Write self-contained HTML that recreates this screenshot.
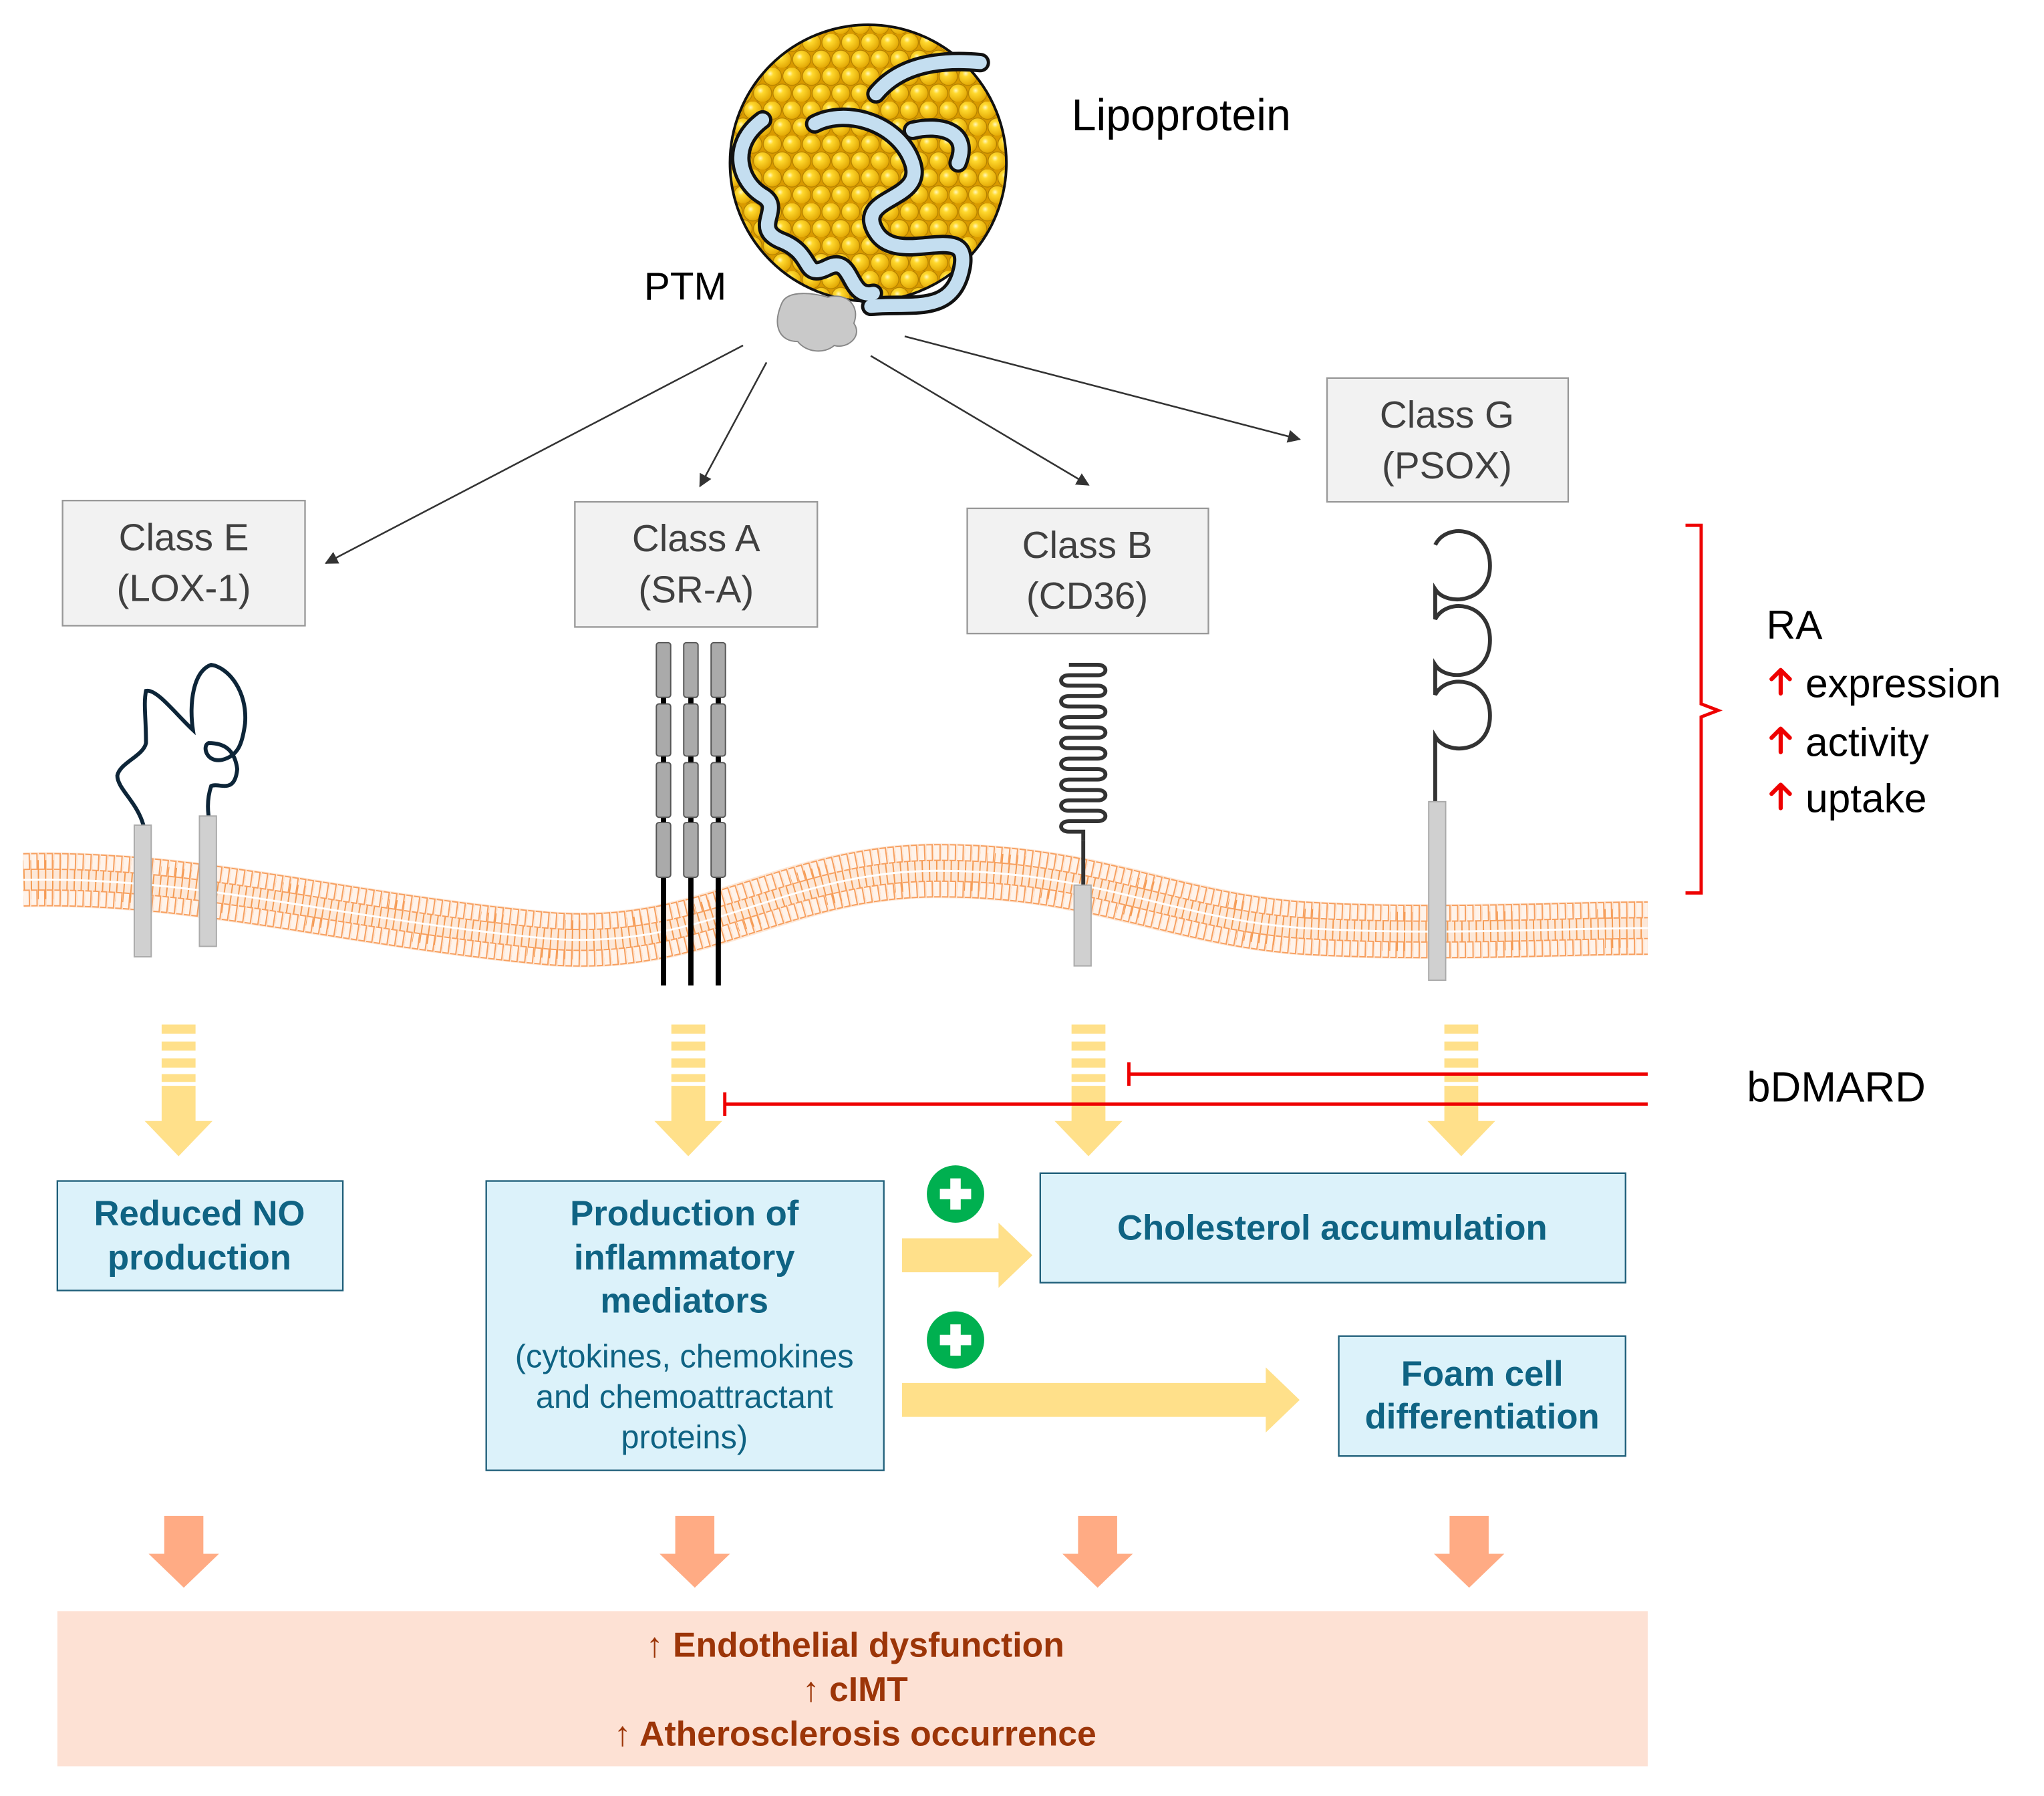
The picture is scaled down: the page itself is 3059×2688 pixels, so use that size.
<!DOCTYPE html>
<html><head><meta charset="utf-8"><style>
html,body{margin:0;padding:0;background:#fff}
svg{display:block}
text{font-family:"Liberation Sans","DejaVu Sans",sans-serif}
</style></head><body>
<svg width="3059" height="2688" viewBox="0 0 1568 1377.8" xmlns="http://www.w3.org/2000/svg">
<defs>
<radialGradient id="sg" cx="0.38" cy="0.35" r="0.7">
<stop offset="0" stop-color="#fff7c0"/><stop offset="0.25" stop-color="#ffd92e"/><stop offset="1" stop-color="#e0a300"/>
</radialGradient>
<pattern id="sp" width="15" height="26" patternUnits="userSpaceOnUse">
<rect width="15" height="26" fill="#d99a00"/>
<circle cx="7.5" cy="6.5" r="7" fill="url(#sg)" stroke="#b07d00" stroke-width="0.6"/>
<circle cx="0" cy="19.5" r="7" fill="url(#sg)" stroke="#b07d00" stroke-width="0.6"/>
<circle cx="15" cy="19.5" r="7" fill="url(#sg)" stroke="#b07d00" stroke-width="0.6"/>
</pattern>
<marker id="ah" markerWidth="10" markerHeight="10" refX="9" refY="5" orient="auto" markerUnits="userSpaceOnUse">
<path d="M0,0 L10,5 L0,10 z" fill="#333"/>
</marker>
<path id="mp" d="M18,675 C150,672 260,705 420,720 C540,730 600,668 720,668 C840,668 900,705 1000,712 C1100,718 1200,712 1264,712"/>
</defs>

<!-- Lipoprotein -->
<circle cx="666" cy="125" r="106" fill="url(#sp)" stroke="#111" stroke-width="2"/>
<g fill="none" stroke-linecap="round" stroke-linejoin="round">
<g stroke="#111" stroke-width="15">
<path d="M585,92 C558,112 568,140 585,150 S575,175 600,185 S615,215 635,205 S650,230 670,225"/>
<path d="M625,95 C650,82 690,95 700,125 S655,150 672,178 S745,168 738,205 S700,232 668,235"/>
<path d="M672,72 C690,50 720,45 752,48"/>
<path d="M700,100 C720,95 745,100 735,125"/>
</g>
<g stroke="#c4def0" stroke-width="10">
<path d="M585,92 C558,112 568,140 585,150 S575,175 600,185 S615,215 635,205 S650,230 670,225"/>
<path d="M625,95 C650,82 690,95 700,125 S655,150 672,178 S745,168 738,205 S700,232 668,235"/>
<path d="M672,72 C690,50 720,45 752,48"/>
<path d="M700,100 C720,95 745,100 735,125"/>
</g>
</g>
<path d="M600,232 C605,222 625,225 635,228 C650,224 660,235 655,248 C662,258 650,268 640,265 C632,272 618,270 612,262 C598,262 592,250 600,232 z" fill="#c9c9c9" stroke="#888" stroke-width="1"/>
<text x="822" y="100" font-size="34" fill="#000">Lipoprotein</text>
<text x="494" y="230" font-size="30" fill="#000">PTM</text>

<!-- arrows -->
<g stroke="#333" stroke-width="1.3" marker-end="url(#ah)">
<line x1="570" y1="265" x2="250" y2="432"/>
<line x1="588" y1="278" x2="537" y2="373"/>
<line x1="668" y1="273" x2="835" y2="372"/>
<line x1="694" y1="258" x2="997" y2="337"/>
</g>

<!-- class boxes -->
<g fill="#f2f2f2" stroke="#999" stroke-width="1.2">
<rect x="48" y="384" width="186" height="96"/>
<rect x="441" y="385" width="186" height="96"/>
<rect x="742" y="390" width="185" height="96"/>
<rect x="1018" y="290" width="185" height="95"/>
</g>
<g font-size="29" fill="#404040" text-anchor="middle">
<text x="141" y="422">Class E</text><text x="141" y="461">(LOX-1)</text>
<text x="534" y="423">Class A</text><text x="534" y="462">(SR-A)</text>
<text x="834" y="428">Class B</text><text x="834" y="467">(CD36)</text>
<text x="1110" y="328">Class G</text><text x="1110" y="367">(PSOX)</text>
</g>

<!-- membrane -->
<g fill="none">
<use href="#mp" stroke="#fde8d8" stroke-width="42"/>
<use href="#mp" stroke="#f49a50" stroke-width="30" stroke-dasharray="1 4.5"/>
<use href="#mp" transform="translate(0,-14)" stroke="#f7a060" stroke-width="13" stroke-dasharray="5 0.9"/>
<use href="#mp" transform="translate(0,-14)" stroke="#fff3ea" stroke-width="11" stroke-dasharray="4 1.9"/>
<use href="#mp" transform="translate(0,14)" stroke="#f7a060" stroke-width="13" stroke-dasharray="5 0.9"/>
<use href="#mp" transform="translate(0,14)" stroke="#fff3ea" stroke-width="11" stroke-dasharray="4 1.9"/>
<use href="#mp" stroke="#fff" stroke-width="1.5"/>
</g>

<!-- Class E receptor -->
<path d="M110,633 C105,615 90,605 90,595 C92,585 110,580 112,570 C112,550 110,540 112,530 C120,528 135,548 148,560 C145,540 148,515 162,510 C175,512 190,530 188,555 C186,570 183,580 170,583 C158,585 155,572 160,570 C172,570 180,575 182,590 C180,610 168,600 162,603 C158,615 160,625 160,626" fill="none" stroke="#0d2538" stroke-width="3"/>
<rect x="103" y="633" width="13" height="101" fill="#d0d0d0" stroke="#aaa"/>
<rect x="153" y="626" width="13" height="100" fill="#d0d0d0" stroke="#aaa"/>

<!-- Class A receptor -->
<g>
<g stroke="#000" stroke-width="4"><line x1="509" y1="495" x2="509" y2="756"/><line x1="530" y1="495" x2="530" y2="756"/><line x1="551" y1="495" x2="551" y2="756"/></g>
<g fill="#aaa" stroke="#555" stroke-width="1">
<rect x="503.5" y="493" width="11" height="42" rx="2"/><rect x="503.5" y="540" width="11" height="40" rx="2"/><rect x="503.5" y="585" width="11" height="42" rx="2"/><rect x="503.5" y="631" width="11" height="42" rx="2"/>
<rect x="524.5" y="493" width="11" height="42" rx="2"/><rect x="524.5" y="540" width="11" height="40" rx="2"/><rect x="524.5" y="585" width="11" height="42" rx="2"/><rect x="524.5" y="631" width="11" height="42" rx="2"/>
<rect x="545.5" y="493" width="11" height="42" rx="2"/><rect x="545.5" y="540" width="11" height="40" rx="2"/><rect x="545.5" y="585" width="11" height="42" rx="2"/><rect x="545.5" y="631" width="11" height="42" rx="2"/>
</g>
</g>

<!-- Class B receptor -->
<path d="M831,645 L831,638 L820,638 C812,638 812,630 820,630 L842,630 C850,630 850,622 842,622 L820,622 C812,622 812,614 820,614 L842,614 C850,614 850,606 842,606 L820,606 C812,606 812,598 820,598 L842,598 C850,598 850,590 842,590 L820,590 C812,590 812,582 820,582 L842,582 C850,582 850,574 842,574 L820,574 C812,574 812,566 820,566 L842,566 C850,566 850,558 842,558 L820,558 C812,558 812,550 820,550 L842,550 C850,550 850,542 842,542 L820,542 C812,542 812,534 820,534 L842,534 C850,534 850,526 842,526 L820,526 C812,526 812,518 820,518 L842,518 C850,518 850,510 842,510 L820,510" fill="none" stroke="#333" stroke-width="3"/>
<line x1="831" y1="645" x2="831" y2="680" stroke="#333" stroke-width="3"/>
<rect x="824" y="679" width="13" height="62" fill="#d0d0d0" stroke="#aaa"/>

<!-- Class G receptor -->
<g fill="none" stroke="#333" stroke-width="3">
<path d="M1101,418 C1110,400 1143,405 1143,434 C1143,462 1110,466 1101,452 L1101,475 C1110,458 1143,462 1143,491 C1143,520 1110,524 1101,510 L1101,533 C1110,516 1143,520 1143,549 C1143,578 1110,580 1101,565 L1101,615"/>
</g>
<rect x="1096" y="615" width="13" height="137" fill="#d0d0d0" stroke="#aaa"/>

<!-- RA bracket -->
<path d="M1293,403 L1305,403 L1305,540 L1318,545 L1305,550 L1305,685 L1293,685" fill="none" stroke="#e00" stroke-width="2.5"/>
<text x="1355" y="490" font-size="31" fill="#000">RA</text>
<g font-size="31" fill="#000">
<text x="1385" y="535">expression</text><text x="1385" y="580">activity</text><text x="1385" y="623">uptake</text>
</g>
<g fill="none" stroke="#e00" stroke-width="3.2" stroke-linecap="round" stroke-linejoin="round">
<path d="M1366,532 L1366,514 M1359,521 L1366,514 L1373,521"/>
<path d="M1366,577 L1366,559 M1359,566 L1366,559 L1373,566"/>
<path d="M1366,620 L1366,602 M1359,609 L1366,602 L1373,609"/>
</g>

<!-- yellow dashed arrows -->
<g fill="#ffe08a">
<g id="ya">
<rect x="124" y="786" width="26" height="7"/><rect x="124" y="799" width="26" height="7"/><rect x="124" y="812" width="26" height="7"/><rect x="124" y="824" width="26" height="6"/>
<rect x="124" y="833" width="26" height="28"/><path d="M111,860 L163,860 L137,887 z"/>
</g>
<use href="#ya" x="391"/><use href="#ya" x="698"/><use href="#ya" x="984"/>
</g>

<!-- bDMARD -->
<g stroke="#e00" stroke-width="2.5">
<line x1="866" y1="824" x2="1264" y2="824"/><line x1="866" y1="815" x2="866" y2="833"/>
<line x1="556" y1="847" x2="1264" y2="847"/><line x1="556" y1="838" x2="556" y2="856"/>
</g>
<text x="1340" y="845" font-size="32.5" fill="#000">bDMARD</text>

<!-- blue boxes -->
<g fill="#dcf2fa" stroke="#1f5f7a" stroke-width="1.2">
<rect x="44" y="906" width="219" height="84"/>
<rect x="373" y="906" width="305" height="222"/>
<rect x="798" y="900" width="449" height="84"/>
<rect x="1027" y="1025" width="220" height="92"/>
</g>
<g font-size="27" font-weight="bold" fill="#0f6383" text-anchor="middle">
<text x="153" y="940">Reduced NO</text><text x="153" y="974">production</text>
<text x="525" y="940">Production of</text><text x="525" y="974">inflammatory</text><text x="525" y="1007">mediators</text>
<text x="1022" y="951">Cholesterol accumulation</text>
<text x="1137" y="1063">Foam cell</text><text x="1137" y="1096">differentiation</text>
</g>
<g font-size="25" fill="#0f6383" text-anchor="middle">
<text x="525" y="1049">(cytokines, chemokines</text><text x="525" y="1080">and chemoattractant</text><text x="525" y="1111">proteins)</text>
</g>

<!-- plus circles -->
<g>
<circle cx="733" cy="916" r="22" fill="#00b050"/><rect x="721" y="912" width="24" height="8" fill="#fff"/><rect x="729" y="904" width="8" height="24" fill="#fff"/>
<circle cx="733" cy="1028" r="22" fill="#00b050"/><rect x="721" y="1024" width="24" height="8" fill="#fff"/><rect x="729" y="1016" width="8" height="24" fill="#fff"/>
</g>
<!-- horizontal yellow arrows -->
<g fill="#ffe08a">
<path d="M692,950 L766,950 L766,938 L792,963 L766,988 L766,976 L692,976 z"/>
<path d="M692,1061 L971,1061 L971,1049 L997,1074 L971,1099 L971,1087 L692,1087 z"/>
</g>

<!-- salmon arrows -->
<g fill="#ffab84">
<path id="sa" d="M126,1163 L156,1163 L156,1192 L168,1192 L141,1218 L114,1192 L126,1192 z"/>
<use href="#sa" x="392"/><use href="#sa" x="701"/><use href="#sa" x="986"/>
</g>

<!-- bottom box -->
<rect x="44" y="1236" width="1220" height="119" fill="#fde1d4"/>
<g font-size="26.5" font-weight="bold" fill="#9c3508" text-anchor="middle">
<text x="656" y="1271">↑ Endothelial dysfunction</text>
<text x="656" y="1305">↑ cIMT</text>
<text x="656" y="1339">↑ Atherosclerosis occurrence</text>
</g>
</svg>
</body></html>
